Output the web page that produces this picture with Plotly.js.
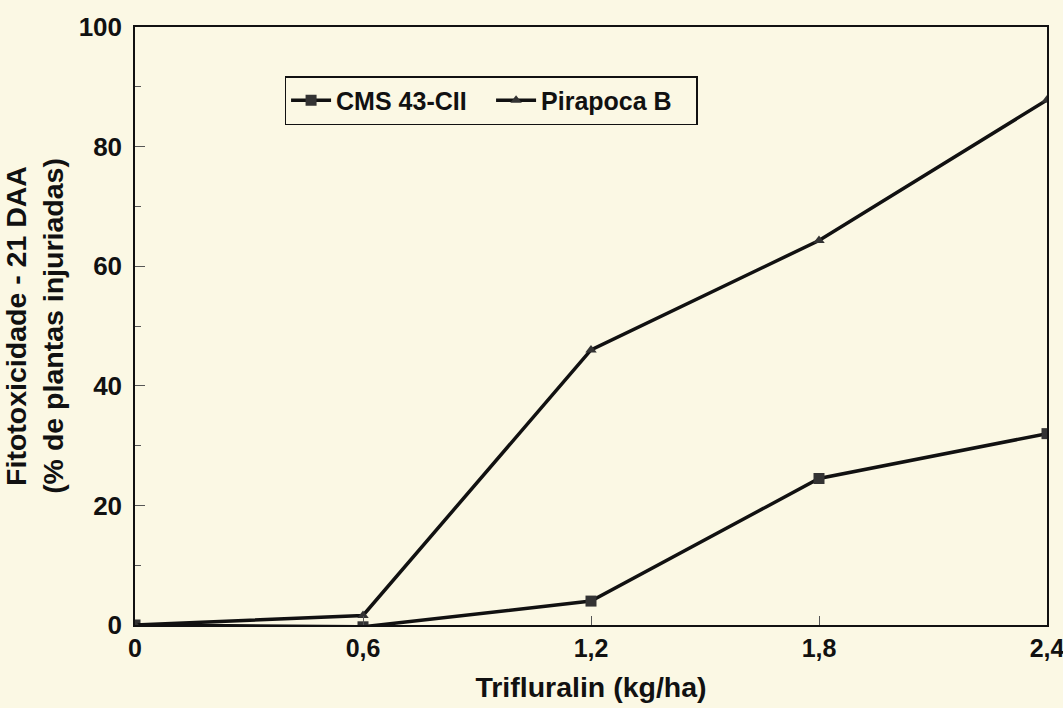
<!DOCTYPE html>
<html><head><meta charset="utf-8">
<script src="https://cdn.plot.ly/plotly-3.0.1.min.js"></script>
<style>body{margin:0;background:#fbf8e4}</style>
</head><body>
<div id="chart" style="width:1063px;height:708px"></div>
<script>
const doses = [0, 0.6, 1.2, 1.8, 2.4];
const cms43 = [0, -0.3, 4, 24.5, 32];
const pirapoca = [0, 1.6, 46, 64.3, 87.8];
const xTickVals = [0, 0.6, 1.2, 1.8, 2.4];
const xTickText = ['0', '0,6', '1,2', '1,8', '2,4'];
const yTickVals = [0, 20, 40, 60, 80, 100];

const fam = 'Liberation Sans, Arial, sans-serif';
const tf = (s) => ({family: fam, size: s, color: '#111', weight: 'bold'});
const traces = [
  {x: doses, y: cms43, name: 'CMS 43-CII', mode: 'lines+markers',
   line: {color: '#111', width: 3.5},
   marker: {symbol: 'square', size: 11, color: '#333'}},
  {x: doses, y: pirapoca, name: 'Pirapoca B', mode: 'lines+markers',
   line: {color: '#111', width: 3.5},
   marker: {symbol: 'triangle-up', size: 10, color: '#333'}}
];
const layout = {
  width: 1063, height: 708,
  paper_bgcolor: '#fbf8e4', plot_bgcolor: 'rgba(0,0,0,0)',
  margin: {l: 135, r: 16, t: 27, b: 83},
  font: {family: fam, color: '#111'},
  showlegend: true,
  legend: {orientation: 'h', x: 0.164, y: 0.918, xanchor: 'left', yanchor: 'top',
    bgcolor: 'rgba(0,0,0,0)', bordercolor: '#111', borderwidth: 1.5,
    font: tf(25), itemwidth: 40, tracegroupgap: 0, entrywidth: 150},
  xaxis: {range: [0, 2.4], tickvals: xTickVals, ticktext: xTickText,
    showgrid: false, zeroline: false, showline: true, linecolor: '#111', linewidth: 1.5,
    mirror: true, ticks: 'inside', ticklen: 9, tickcolor: '#555',
    ticklabeloverflow: 'allow', tickfont: tf(25),
    title: {text: 'Trifluralin (kg/ha)', standoff: 16, font: tf(28.5)}},
  yaxis: {range: [0, 100], tickvals: yTickVals, showgrid: false, zeroline: false,
    showline: true, linecolor: '#111', linewidth: 1.5, mirror: true,
    ticks: 'inside', ticklen: 10, tickcolor: '#555', ticklabelstandoff: 6,
    minor: {dtick: 10, ticks: 'inside', ticklen: 6, tickcolor: '#555'},
    ticklabeloverflow: 'allow', tickfont: tf(26),
    title: {text: 'Fitotoxicidade - 21 DAA<br>(% de plantas injuriadas)', standoff: 8,
      font: tf(28.5)}},
};
Plotly.newPlot('chart', traces, layout, {displayModeBar: false});
</script>
</body></html>
